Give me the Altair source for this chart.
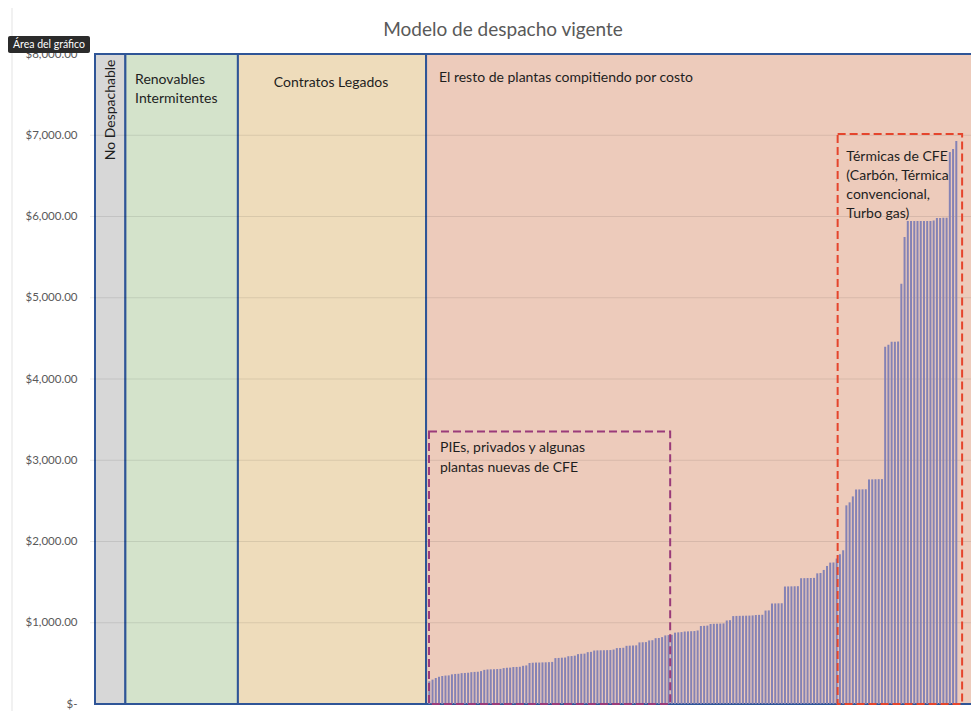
import altair as alt
import pandas as pd

TITLE = "Modelo de despacho vigente"
FONT = "Lato"

# Costo variable por planta (orden de mérito), $/MWh
costos = [
    280, 300, 320, 335, 345, 350, 352, 365, 370, 372,
    380, 382, 385, 392, 395, 397, 405, 420, 425, 427,
    428, 430, 432, 442, 446, 448, 455, 456, 458, 470,
    475, 505, 508, 510, 510, 512, 513, 515, 518, 565,
    567, 570, 572, 588, 590, 595, 614, 618, 620, 638,
    642, 658, 660, 661, 662, 663, 664, 670, 688, 690,
    692, 716, 718, 720, 722, 758, 760, 762, 782, 785,
    810, 812, 823, 844, 848, 852, 878, 882, 885, 892,
    894, 896, 898, 905, 960, 962, 965, 985, 987, 988,
    990, 992, 1028, 1032, 1082, 1084, 1085, 1086, 1087, 1088,
    1090, 1095, 1097, 1098, 1150, 1152, 1237, 1238, 1239, 1240,
    1446, 1447, 1448, 1449, 1450, 1548, 1549, 1550, 1551, 1552,
    1608, 1612, 1650, 1699, 1740, 1742, 1790, 1843, 1892, 2445,
    2482, 2555, 2640, 2641, 2642, 2643, 2764, 2765, 2766, 2767,
    2768, 4398, 4422, 4459, 4460, 4461, 5172, 5749, 5946, 5946,
    5946, 5946, 5946, 5946, 5946, 5946, 5950, 5983, 5983, 5984,
    5985, 6794, 6830, 6929,
]

# Bloques del modelo de despacho (eje x en unidades de "planta")
region_names = ["No Despachable", "Renovables Intermitentes", "Contratos Legados",
                "El resto de plantas compitiendo por costo"]
region_x0 = [0.0, 9.4, 44.2, 102.4]
region_x1 = [9.4, 44.2, 102.4, 276.0]
region_fill = ["#d7d7d7", "#d4e3cb", "#eedcbb", "#edcbbb"]

# Recuadros punteados
box_names = ["PIEs", "Térmicas"]
box_x0 = [103.3, 229.7]
box_x1 = [177.9, 268.2]
box_top = [3354, 7015]
box_color = ["#9a3b7a", "#e5452c"]

y_ticks = [0, 1000, 2000, 3000, 4000, 5000, 6000, 7000, 8000]
grid_values = [1000, 2000, 3000, 4000, 5000, 6000, 7000]

# Etiquetas de texto (posición en unidades de datos)
left_text = ["Renovables", "Intermitentes", "El resto de plantas compitiendo por costo",
             "PIEs, privados y algunas", "plantas nuevas de CFE",
             "Térmicas de CFE", "(Carbón, Térmica", "convencional,", "Turbo gas)"]
left_x = [12.4, 12.4, 106.4, 106.7, 106.7, 232.4, 232.4, 232.4, 232.4]
left_y = [7631, 7398, 7656, 3097, 2851, 6685, 6452, 6218, 5985]

FIRST_BAR = 103.4
X_MAX = 269.4
Y_MAX = 8000

xscale = alt.Scale(domain=[0, X_MAX], nice=False, zero=False)
yscale = alt.Scale(domain=[0, Y_MAX], nice=False, zero=True)
Y_AXIS = alt.Axis(values=y_ticks,
                  labelExpr="datum.value == 0 ? '$-\u00a0' : format(datum.value, '$,.2f')",
                  domain=False, ticks=False, grid=False, title=None,
                  labelFont=FONT, labelFontSize=11.5, labelColor="#595959", labelPadding=13)

regions = pd.DataFrame({"name": region_names, "x0": region_x0, "x1": region_x1,
                        "fill": region_fill, "y0": 0, "y1": Y_MAX})
bars = pd.DataFrame({"pos": [FIRST_BAR + i for i in range(len(costos))], "costo": costos})
boxes = pd.DataFrame({"name": box_names, "x0": box_x0, "x1": box_x1, "top": box_top,
                      "color": box_color, "y0": 0})
grid = pd.DataFrame({"v": grid_values})
labels = pd.DataFrame({"t": left_text, "x": left_x, "y": left_y})

region_layer = alt.Chart(regions).mark_rect(stroke="#2f5597", strokeWidth=2).encode(
    x=alt.X("x0:Q", scale=xscale, axis=None), x2="x1:Q",
    y=alt.Y("y0:Q", scale=yscale, axis=Y_AXIS), y2="y1:Q",
    fill=alt.Fill("fill:N", scale=None),
)

grid_layer = alt.Chart(grid).mark_rule(color="#000000", opacity=0.09, strokeWidth=1).encode(
    y=alt.Y("v:Q", scale=yscale, axis=Y_AXIS),
)

bar_layer = alt.Chart(bars).mark_bar(size=2, color="#8482b5").encode(
    x=alt.X("pos:Q", scale=xscale, axis=None),
    y=alt.Y("costo:Q", scale=yscale, axis=Y_AXIS),
)

box_layer = alt.Chart(boxes).mark_rect(fillOpacity=0, strokeWidth=2, strokeDash=[8, 4]).encode(
    x=alt.X("x0:Q", scale=xscale, axis=None), x2="x1:Q",
    y=alt.Y("y0:Q", scale=yscale, axis=Y_AXIS), y2="top:Q",
    stroke=alt.Stroke("color:N", scale=None),
)

text_left = alt.Chart(labels).mark_text(align="left", baseline="alphabetic", font=FONT,
                                        fontSize=14, color="#1e1e1e").encode(
    x=alt.X("x:Q", scale=xscale, axis=None),
    y=alt.Y("y:Q", scale=yscale, axis=Y_AXIS),
    text="t:N",
)

center_df = pd.DataFrame({"t": ["Contratos Legados"], "x": [73.0], "y": [7595]})
text_center = alt.Chart(center_df).mark_text(align="center", baseline="alphabetic", font=FONT,
                                             fontSize=14, color="#1e1e1e").encode(
    x=alt.X("x:Q", scale=xscale, axis=None),
    y=alt.Y("y:Q", scale=yscale, axis=Y_AXIS),
    text="t:N",
)

rot_df = pd.DataFrame({"t": ["No Despachable"], "x": [4.85], "y": [7312]})
text_rot = alt.Chart(rot_df).mark_text(align="center", baseline="middle", angle=270, font=FONT,
                                       fontSize=14, color="#1e1e1e").encode(
    x=alt.X("x:Q", scale=xscale, axis=None),
    y=alt.Y("y:Q", scale=yscale, axis=Y_AXIS),
    text="t:N",
)

# Título (centrado como en la captura)
title_text = alt.Chart(pd.DataFrame({"t": [TITLE]})).mark_text(
    align="center", baseline="alphabetic", font=FONT, fontSize=19, color="#595959").encode(
    x=alt.value(413), y=alt.value(-18), text="t:N",
)

# Elementos de la interfaz de Excel presentes en la captura
edge_line = alt.Chart(pd.DataFrame({"a": [0]})).mark_rule(color="#e3e3e3", strokeWidth=1).encode(
    x=alt.value(-78), y=alt.value(-46), y2=alt.value(657),
)
tip_box = alt.Chart(pd.DataFrame({"a": [0]})).mark_rect(fill="#2b2b2b", cornerRadius=2).encode(
    x=alt.value(-82), x2=alt.value(0), y=alt.value(-18), y2=alt.value(-1),
)
tip_text = alt.Chart(pd.DataFrame({"t": ["Área del gráfico"]})).mark_text(
    align="center", baseline="middle", font=FONT, fontSize=10.5, color="#ffffff").encode(
    x=alt.value(-41), y=alt.value(-9.5), text="t:N",
)

chart = alt.layer(
    region_layer, grid_layer, bar_layer, box_layer,
    text_left, text_center, text_rot, title_text, edge_line, tip_box, tip_text,
).properties(
    width=881, height=650,
    autosize=alt.AutoSizeParams(type="none"),
    padding={"left": 82, "top": 46, "right": 0, "bottom": 7},
).configure_view(stroke=None)

chart.save("out.html", embed_options={"renderer": "svg", "actions": False})
